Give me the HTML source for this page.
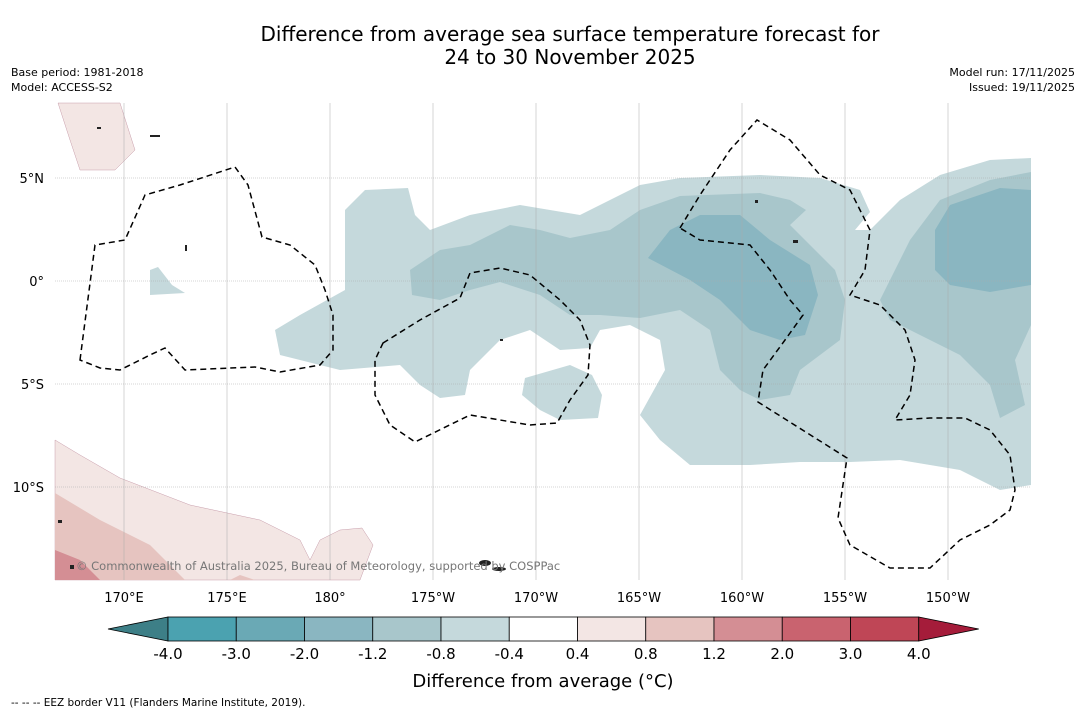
<!DOCTYPE html>
<html><head><meta charset="utf-8"><style>
body{margin:0;background:#fff;font-family:"DejaVu Sans","Liberation Sans",sans-serif;}
svg{display:block}
</style></head><body>
<svg width="1085" height="713" viewBox="0 0 1085 713">
<text x="570" y="41" font-size="20" text-anchor="middle">Difference from average sea surface temperature forecast for</text>
<text x="570" y="64" font-size="20" text-anchor="middle">24 to 30 November 2025</text>
<text x="11" y="76" font-size="11">Base period: 1981-2018</text>
<text x="11" y="91" font-size="11">Model: ACCESS-S2</text>
<text x="1075" y="76" font-size="11" text-anchor="end">Model run: 17/11/2025</text>
<text x="1075" y="91" font-size="11" text-anchor="end">Issued: 19/11/2025</text>
<g id="map">
<polygon fill="#c5d9dc" points="275,330 300,315 345,290 345,210 365,190 408,188 415,215 430,230 470,215 520,205 580,215 640,185 680,178 760,175 820,178 860,190 870,212 855,230 870,230 900,200 940,175 990,160 1031,158 1031,485 1000,490 960,470 900,460 850,462 800,462 750,465 690,465 660,440 640,415 665,370 660,340 630,325 600,330 590,348 560,350 530,330 500,340 470,370 465,395 440,398 420,385 400,365 340,370 300,360 280,355"/>
<polygon fill="#c5d9dc" points="525,378 570,365 592,375 602,395 598,418 560,420 540,410 522,395"/>
<polygon fill="#c5d9dc" points="150,270 158,267 172,285 185,293 150,295"/>
<polygon fill="#a8c6cb" points="410,270 440,250 470,245 510,225 540,230 570,238 610,230 640,210 680,196 760,193 790,200 806,210 790,225 810,245 835,270 845,300 840,340 800,370 790,395 760,400 740,390 720,370 710,330 680,310 640,318 600,315 570,315 540,295 500,282 470,290 440,300 412,295"/>
<polygon fill="#a8c6cb" points="880,300 910,240 940,200 990,180 1031,172 1031,325 1015,360 1025,405 1000,418 990,385 960,355 920,335 890,320"/>
<polygon fill="#8ab6c1" points="648,258 670,230 700,215 740,215 770,240 810,265 818,295 805,335 780,340 750,330 720,300 690,280"/>
<polygon fill="#8ab6c1" points="935,230 950,205 1000,188 1031,190 1031,285 990,292 950,285 935,270"/>
<polygon fill="#f3e6e4" stroke="#b89" stroke-width="0.4" points="55,440 80,455 120,478 190,505 260,520 300,540 310,560 320,540 340,530 362,528 373,545 360,580 55,580"/>
<polygon fill="#f3e6e4" stroke="#b89" stroke-width="0.4" points="58,103 120,103 135,150 115,170 80,170 70,140"/>
<polygon fill="#e6c4c0" points="55,493 100,520 150,545 185,580 55,580"/>
<polygon fill="#e6c4c0" points="230,580 240,575 255,580"/>
<polygon fill="#d48e94" points="55,550 80,560 100,580 55,580"/>
<g id="grid" stroke="#aaa" stroke-width="0.5"></g>
<g fill="none" stroke="#000" stroke-width="1.5" stroke-dasharray="6,4">
<polygon points="80,360 95,245 125,240 145,195 180,185 235,167 248,185 262,237 290,245 315,265 325,290 333,315 333,350 320,365 280,372 255,367 185,370 165,348 150,355 120,370 100,368"/>
<polygon points="383,343 420,320 460,298 470,273 500,268 530,275 560,300 580,320 590,345 588,375 570,400 557,423 530,425 470,415 415,442 390,425 375,395 375,360"/>
<polyline points="680,228 700,195 730,150 757,120 790,140 820,175 850,190 870,230 865,270 850,295 880,305 905,330 915,360 910,395 895,420 930,418 965,418 990,430 1010,455 1015,490 1010,510 990,525 960,540 930,568 890,568 850,545 838,518 847,458 758,402 763,370 785,340 803,315 790,300 770,270 750,245 700,240 680,228"/>
</g>
<g fill="#222">
<ellipse cx="485" cy="563" rx="6" ry="3"/><ellipse cx="499" cy="569" rx="7" ry="2"/>
<rect x="793" y="240" width="5" height="3"/><rect x="755" y="200" width="3" height="3"/>
<rect x="500" y="339" width="3" height="2"/><rect x="185" y="245" width="2" height="6"/>
<rect x="97" y="127" width="4" height="2"/><rect x="150" y="135" width="10" height="2"/>
<rect x="58" y="520" width="4" height="3"/><rect x="70" y="565" width="4" height="4"/>
</g>
</g>
<text x="76" y="570" font-size="11.5" fill="#777">© Commonwealth of Australia 2025, Bureau of Meteorology, supported by COSPPac</text>
<g id="lonlabels" font-size="13" text-anchor="middle"></g>
<g id="latlabels" font-size="13" text-anchor="end"></g>
<g id="colorbar"></g>
<text x="543" y="687" font-size="18" text-anchor="middle">Difference from average (°C)</text>
<text x="11" y="706" font-size="10.5">-- -- -- EEZ border V11 (Flanders Marine Institute, 2019).</text>
</svg>
<script>
const lonTicks=[170,175,180,-175,-170,-165,-160,-155,-150];
const lonLabels=["170°E","175°E","180°","175°W","170°W","165°W","160°W","155°W","150°W"];
const latTicks=[5,0,-5,-10];
const latLabels=["5°N","0°","5°S","10°S"];
const cbLevels=["-4.0","-3.0","-2.0","-1.2","-0.8","-0.4","0.4","0.8","1.2","2.0","3.0","4.0"];
const cbColors=["#4ba2b0","#6aa9b5","#8ab6c1","#a8c6cb","#c5d9dc","#ffffff","#f3e6e4","#e6c4c0","#d48e94","#c9636f","#bf4656"];
const NS="http://www.w3.org/2000/svg";
function xLon(l){let e=l<0?360+l:l;return 124+(e-170)*20.6;}
function yLat(v){return 281-v*20.6;}
function mk(t,a,p){const e=document.createElementNS(NS,t);for(const k in a)e.setAttribute(k,a[k]);p.appendChild(e);return e;}
const grid=document.getElementById('grid');
lonTicks.forEach((l,i)=>{const x=xLon(l);
 const ln=mk('line',{x1:x,x2:x,y1:103,y2:580},grid);
 
 
 const t=mk('text',{x:x,y:602},document.getElementById('lonlabels'));t.textContent=lonLabels[i];
 
 
});
latTicks.forEach((v,i)=>{const y=yLat(v);
 const ln=mk('line',{x1:55,x2:1031,y1:y,y2:y,'stroke-dasharray':'1,1'},grid);
 
 
 const t=mk('text',{x:44,y:y+5},document.getElementById('latlabels'));t.textContent=latLabels[i];
 
 
});
const cb=document.getElementById('colorbar');
const x0=168,w=68.25,y0=617,h=24;
const lt=mk('polygon',{points:`108,${y0+h/2} ${x0},${y0} ${x0},${y0+h}`,fill:'#3d7f87',stroke:'#000','stroke-width':0.8},cb);


cbColors.forEach((c,i)=>{const r=mk('rect',{x:x0+i*w,y:y0,width:w,height:h,fill:c,stroke:'#000','stroke-width':0.8},cb);
 
 
});
const xe=x0+cbColors.length*w;
const rt=mk('polygon',{points:`${xe},${y0} ${xe+60},${y0+h/2} ${xe},${y0+h}`,fill:'#a51c3a',stroke:'#000','stroke-width':0.8},cb);


cbLevels.forEach((s,i)=>{const t=mk('text',{x:x0+i*w,y:659,'font-size':15,'text-anchor':'middle'},cb);t.textContent=s;
 
 
});
</script>
</body></html>
